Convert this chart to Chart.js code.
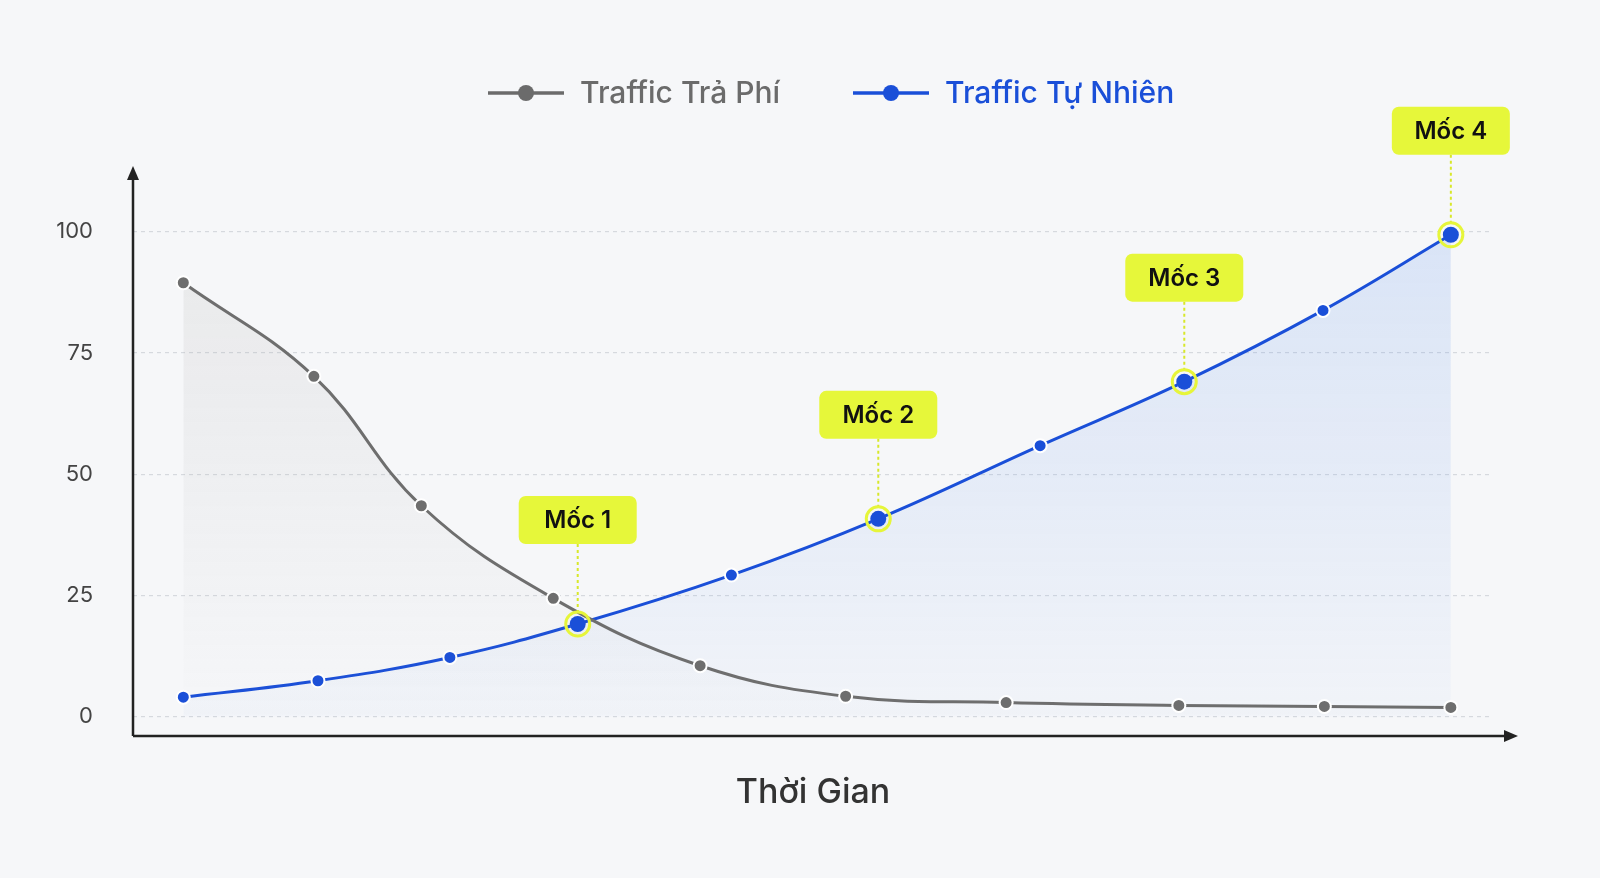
<!DOCTYPE html>
<html><head><meta charset="utf-8">
<script src="https://cdn.jsdelivr.net/npm/chart.js@4/dist/chart.umd.min.js"></script>
<style>html,body{margin:0;background:#f6f7f9;}#w{width:1600px;height:878px;}</style>
</head><body><div id="w"><canvas id="c"></canvas></div>
<script>
const paidX=[3.7,13.3,21.2,30.9,41.7,52.4,64.2,76.9,87.6,96.9];
const paidY=[89.5,70.2,43.5,24.4,10.5,4.2,2.9,2.3,2.1,1.9];
const orgX=[3.7,13.6,23.3,32.7,44.0,54.8,66.7,77.3,87.5,96.9];
const orgY=[4,7.4,12.2,19.1,29.2,40.8,55.9,69.1,83.8,99.4];
const yTicks=[0,25,50,75,100];
const milestones=[{i:3,label:'Mốc 1'},{i:5,label:'Mốc 2'},{i:7,label:'Mốc 3'},{i:9,label:'Mốc 4'}];
const seriesNames=['Traffic Trả Phí','Traffic Tự Nhiên'];
const F='Inter, Roboto, sans-serif';
const toPts=(xs,ys)=>xs.map((x,i)=>({x,y:ys[i]}));
function grad(ctx,area,c1,c2){if(!area)return c2;const g=ctx.createLinearGradient(0,area.top,0,area.bottom);g.addColorStop(0,c1);g.addColorStop(1,c2);return g;}
const deco={id:'deco',
afterDatasetsDraw(ch){const c=ch.ctx,a=ch.chartArea;c.save();
 c.strokeStyle='#222';c.lineWidth=2.5;c.beginPath();c.moveTo(a.left,a.bottom);c.lineTo(1508,a.bottom);c.moveTo(a.left,a.bottom);c.lineTo(a.left,176);c.stroke();
 c.fillStyle='#222';c.beginPath();c.moveTo(1518,a.bottom);c.lineTo(1504,a.bottom-6);c.lineTo(1504,a.bottom+6);c.fill();
 c.beginPath();c.moveTo(a.left,166);c.lineTo(a.left-6,180);c.lineTo(a.left+6,180);c.fill();
 const meta=ch.getDatasetMeta(1);
 milestones.forEach(m=>{const p=meta.data[m.i];const x=p.x,y=p.y;
  c.strokeStyle='#e6f53a';c.lineWidth=3;c.beginPath();c.arc(x,y,12,0,Math.PI*2);c.stroke();
  c.fillStyle='#1a4fd8';c.beginPath();c.arc(x,y,8,0,Math.PI*2);c.fill();
  const bh=48,bw=118,by=y-128;
  c.setLineDash([3,3]);c.strokeStyle='#d8e82a';c.lineWidth=2;c.beginPath();c.moveTo(x,by+bh);c.lineTo(x,y-13);c.stroke();c.setLineDash([]);
  c.fillStyle='#e6f73a';c.beginPath();c.roundRect(x-bw/2,by,bw,bh,7);c.fill();
  c.fillStyle='#111';c.font='600 24px '+F;c.textAlign='center';c.textBaseline='middle';c.fillText(m.label,x,by+bh/2+1);
 });
 c.fillStyle='#333';c.font='500 34px '+F;c.textAlign='center';c.textBaseline='middle';c.fillText('Thời Gian',813,793);
 const lg=[[488,'#6b6b6b',seriesNames[0]],[853,'#1a4fd8',seriesNames[1]]];
 lg.forEach(([x,col,t])=>{c.strokeStyle=col;c.lineWidth=3.5;c.beginPath();c.moveTo(x,93);c.lineTo(x+76,93);c.stroke();
  c.fillStyle=col;c.beginPath();c.arc(x+38,93,8,0,Math.PI*2);c.fill();
  c.font='500 30px '+F;c.textAlign='left';c.fillText(t,x+92,94);});
 c.restore();}};
new Chart(document.getElementById('c'),{type:'scatter',
data:{datasets:[
 {label:seriesNames[0],data:toPts(paidX,paidY),showLine:true,tension:0.4,borderColor:'#6e6e6e',borderWidth:3,pointRadius:6.5,pointBackgroundColor:'#6e6e6e',pointBorderColor:'#fff',pointBorderWidth:2,
  fill:'origin',backgroundColor:c=>grad(c.chart.ctx,c.chart.chartArea,'rgba(150,150,150,0.16)','rgba(150,150,150,0.0)')},
 {label:seriesNames[1],data:toPts(orgX,orgY),showLine:true,tension:0.4,borderColor:'#1a4fd8',borderWidth:3,pointRadius:6.5,pointBackgroundColor:'#1a4fd8',pointBorderColor:'#fff',pointBorderWidth:2,
  fill:'origin',backgroundColor:c=>grad(c.chart.ctx,c.chart.chartArea,'rgba(70,130,235,0.18)','rgba(70,130,235,0.02)')}
]},
options:{responsive:true,maintainAspectRatio:false,animation:false,
 layout:{padding:{left:43,right:107,top:164,bottom:0}},
 plugins:{legend:{display:false},tooltip:{enabled:false}},
 scales:{
  x:{type:'linear',min:0,max:100,display:true,grid:{display:false},border:{display:false},ticks:{display:false},afterFit:s=>{s.height=142;}},
  y:{min:-4,max:114,afterBuildTicks:s=>{s.ticks=yTicks.map(v=>({value:v}));},afterFit:s=>{s.width=90;},
   border:{display:false,dash:[4,4]},grid:{color:'#d6d9de',lineWidth:1.2,tickLength:0},
   ticks:{color:'#444',font:{family:F,size:22},padding:40}}
 }},
plugins:[deco]});
</script></body></html>
